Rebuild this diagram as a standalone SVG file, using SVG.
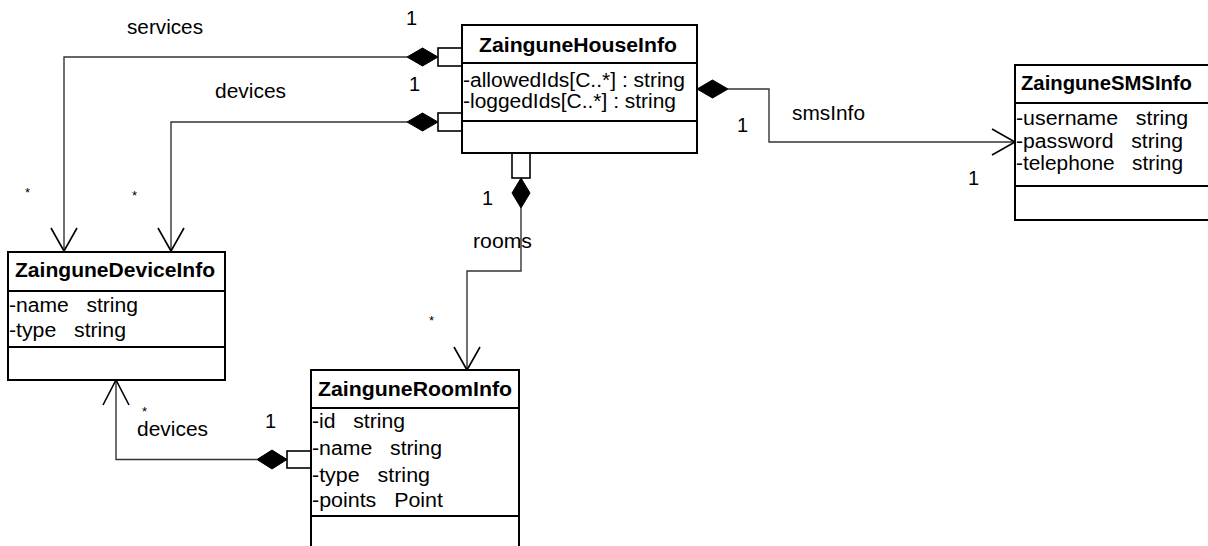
<svg xmlns="http://www.w3.org/2000/svg" width="1208" height="546" viewBox="0 0 1208 546">
  <style>
    .box { fill: #ffffff; stroke: #000000; stroke-width: 2; }
    .div { stroke: #000000; stroke-width: 2; }
    .conn { fill: none; stroke: #333333; stroke-width: 1.4; }
    .arrow { fill: none; stroke: #000000; stroke-width: 1.6; }
    .diamond { fill: #000000; stroke: #000000; stroke-width: 1; }
    .port { fill: #ffffff; stroke: #000000; stroke-width: 1.6; }
    .title { font-family: "Liberation Sans", Arial, sans-serif; font-size: 20px; font-weight: bold; fill: #000000; }
    .attr { font-family: "Liberation Sans", Arial, sans-serif; font-size: 20px; fill: #000000; }
    .label { font-family: "Liberation Sans", Arial, sans-serif; font-size: 20px; fill: #000000; }
    .star { font-family: "Liberation Sans", Arial, sans-serif; font-size: 13px; fill: #000000; }
  </style>
  <rect width="1208" height="546" fill="#ffffff"/>

  <!-- associations -->
  <g id="connectors">
    <!-- services: House -> Device -->
    <polyline class="conn" points="407,57 64,57 64,251"/>
    <polyline class="arrow" points="51,228 64,251 77,228"/>
    <polygon class="diamond" points="438,57 422.5,48 407,57 422.5,66"/>
    <rect class="port" x="438" y="48" width="24" height="18"/>

    <!-- devices: House -> Device -->
    <polyline class="conn" points="407,122 171,122 171,251"/>
    <polyline class="arrow" points="158,228 171,251 184,228"/>
    <polygon class="diamond" points="438,122 422.5,113 407,122 422.5,131"/>
    <rect class="port" x="438" y="113" width="24" height="18"/>

    <!-- smsInfo: House -> SMS -->
    <polyline class="conn" points="728,89 769,89 769,142 1015,142"/>
    <polyline class="arrow" points="992,129 1015,142 992,155"/>
    <polygon class="diamond" points="697,89 712.5,80 728,89 712.5,98"/>

    <!-- rooms: House -> Room -->
    <polyline class="conn" points="521,208 521,271 467,271 467,370"/>
    <polyline class="arrow" points="454,347 467,370 480,347"/>
    <polygon class="diamond" points="521,178 530,193 521,208 512,193"/>
    <rect class="port" x="512" y="153" width="18" height="25"/>

    <!-- devices: Room -> Device -->
    <polyline class="conn" points="257,459.5 116,459.5 116,380"/>
    <polyline class="arrow" points="103,405 116,380 129,405"/>
    <polygon class="diamond" points="287,459.5 272,450 257,459.5 272,469"/>
    <rect class="port" x="287" y="451" width="24" height="17"/>

    <!-- role names and multiplicities -->
    <text class="label" x="127" y="34" textLength="76" lengthAdjust="spacingAndGlyphs">services</text>
    <text class="label" x="406" y="25">1</text>
    <text class="label" x="215" y="98" textLength="71" lengthAdjust="spacingAndGlyphs">devices</text>
    <text class="label" x="409" y="91">1</text>
    <text class="star" x="25" y="197">*</text>
    <text class="star" x="132" y="200">*</text>
    <text class="label" x="737" y="132">1</text>
    <text class="label" x="792" y="120" textLength="73" lengthAdjust="spacingAndGlyphs">smsInfo</text>
    <text class="label" x="968" y="185">1</text>
    <text class="label" x="482" y="205">1</text>
    <text class="label" x="473" y="248" textLength="59" lengthAdjust="spacingAndGlyphs">rooms</text>
    <text class="star" x="429" y="325">*</text>
    <text class="label" x="265" y="428">1</text>
    <text class="label" x="137" y="436" textLength="71" lengthAdjust="spacingAndGlyphs">devices</text>
    <text class="star" x="142" y="416">*</text>
  </g>

  <!-- ZainguneHouseInfo -->
  <g id="house-info">
    <rect class="box" x="462" y="25" width="235" height="128"/>
    <line class="div" x1="462" y1="63" x2="697" y2="63"/>
    <line class="div" x1="462" y1="121" x2="697" y2="121"/>
    <text class="title" x="479" y="52" textLength="198" lengthAdjust="spacingAndGlyphs">ZainguneHouseInfo</text>
    <text class="attr" x="463" y="87" textLength="222" lengthAdjust="spacingAndGlyphs">-allowedIds[C..*] : string</text>
    <text class="attr" x="463" y="108" textLength="213" lengthAdjust="spacingAndGlyphs">-loggedIds[C..*] : string</text>
  </g>

  <!-- ZainguneSMSInfo -->
  <g id="sms-info">
    <rect class="box" x="1015" y="65" width="205" height="155"/>
    <line class="div" x1="1015" y1="103" x2="1220" y2="103"/>
    <line class="div" x1="1015" y1="186" x2="1220" y2="186"/>
    <text class="title" x="1021" y="90" textLength="171" lengthAdjust="spacingAndGlyphs">ZainguneSMSInfo</text>
    <text class="attr" x="1016" y="125" textLength="172" lengthAdjust="spacingAndGlyphs" xml:space="preserve">-username   string</text>
    <text class="attr" x="1016" y="148" textLength="167" lengthAdjust="spacingAndGlyphs" xml:space="preserve">-password   string</text>
    <text class="attr" x="1016" y="170" textLength="167" lengthAdjust="spacingAndGlyphs" xml:space="preserve">-telephone   string</text>
  </g>

  <!-- ZainguneDeviceInfo -->
  <g id="device-info">
    <rect class="box" x="8" y="252" width="217" height="128"/>
    <line class="div" x1="8" y1="291" x2="225" y2="291"/>
    <line class="div" x1="8" y1="347" x2="225" y2="347"/>
    <text class="title" x="15" y="277" textLength="200" lengthAdjust="spacingAndGlyphs">ZainguneDeviceInfo</text>
    <text class="attr" x="9" y="312" textLength="129" lengthAdjust="spacingAndGlyphs" xml:space="preserve">-name   string</text>
    <text class="attr" x="9" y="337" textLength="117" lengthAdjust="spacingAndGlyphs" xml:space="preserve">-type   string</text>
  </g>

  <!-- ZainguneRoomInfo -->
  <g id="room-info">
    <rect class="box" x="311" y="370" width="208" height="190"/>
    <line class="div" x1="311" y1="408" x2="519" y2="408"/>
    <line class="div" x1="311" y1="516" x2="519" y2="516"/>
    <text class="title" x="318" y="396" textLength="194" lengthAdjust="spacingAndGlyphs">ZainguneRoomInfo</text>
    <text class="attr" x="312" y="428" textLength="93" lengthAdjust="spacingAndGlyphs" xml:space="preserve">-id   string</text>
    <text class="attr" x="312" y="455" textLength="130" lengthAdjust="spacingAndGlyphs" xml:space="preserve">-name   string</text>
    <text class="attr" x="312" y="482" textLength="118" lengthAdjust="spacingAndGlyphs" xml:space="preserve">-type   string</text>
    <text class="attr" x="312" y="507" textLength="131" lengthAdjust="spacingAndGlyphs" xml:space="preserve">-points   Point</text>
  </g>
</svg>
